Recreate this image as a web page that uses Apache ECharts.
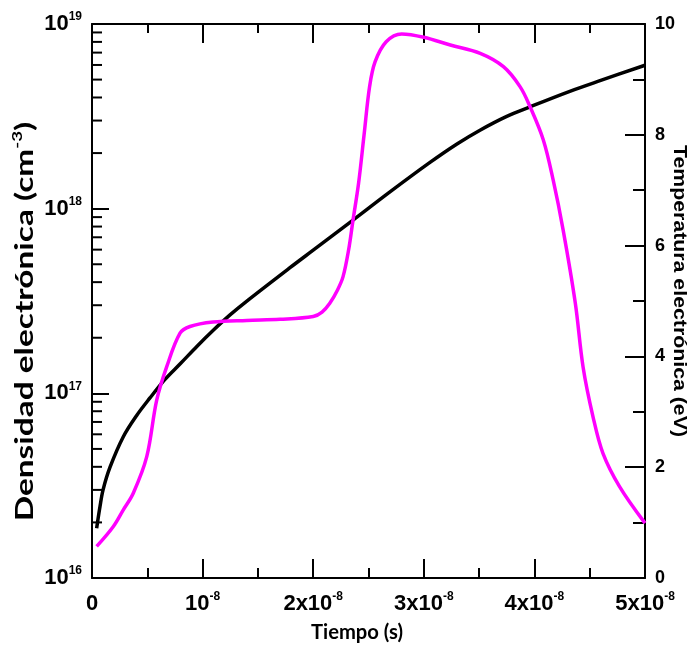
<!DOCTYPE html>
<html><head><meta charset="utf-8">
<script src="https://cdn.jsdelivr.net/npm/echarts@6/dist/echarts.min.js"></script>
<style>html,body{margin:0;padding:0;background:#fff}#c{width:690px;height:646px}</style>
</head><body><div id="c"></div>
<script>
// ---- data (time in seconds) ----
const densityTime = [0.042e-8,0.072e-8,0.10e-8,0.163e-8,0.283e-8,0.404e-8,0.524e-8,0.66e-8,0.80e-8,0.95e-8,1.094e-8,1.248e-8,1.40e-8,1.79e-8,2.0e-8,2.36e-8,2.7e-8,3.056e-8,3.3e-8,3.508e-8,3.75e-8,3.96e-8,4.32e-8,4.6e-8,5.0e-8];
const density = [1.86e16,2.43e16,3.0e16,3.98e16,5.82e16,7.59e16,9.44e16,1.19e17,1.45e17,1.8e17,2.19e17,2.66e17,3.16e17,4.79e17,5.96e17,8.67e17,1.24e18,1.78e18,2.24e18,2.66e18,3.16e18,3.56e18,4.32e18,4.95e18,5.98e18];
const tempTime = [0.042e-8,0.193e-8,0.283e-8,0.373e-8,0.495e-8,0.585e-8,0.675e-8,0.796e-8,0.886e-8,1.094e-8,1.4e-8,1.7e-8,2.0e-8,2.08e-8,2.15e-8,2.22e-8,2.27e-8,2.32e-8,2.36e-8,2.41e-8,2.46e-8,2.51e-8,2.56e-8,2.66e-8,2.8e-8,3.0e-8,3.24e-8,3.51e-8,3.72e-8,3.87e-8,3.96e-8,4.08e-8,4.17e-8,4.26e-8,4.37e-8,4.44e-8,4.53e-8,4.62e-8,4.77e-8,5.0e-8];
const temperature = [0.57,0.93,1.23,1.53,2.19,3.21,3.81,4.42,4.54,4.62,4.65,4.67,4.72,4.8,4.96,5.2,5.44,5.92,6.46,7.12,8.0,8.87,9.32,9.68,9.82,9.76,9.62,9.47,9.23,8.87,8.51,7.91,7.18,6.28,4.96,3.81,2.91,2.25,1.65,0.99];
// ---- tick labels ----
const xTickBase = ['0','10','2x10','3x10','4x10','5x10'];
const xTickExp = ['','-8','-8','-8','-8','-8'];
const leftTickBase = ['10','10','10','10'];
const leftTickExp = ['16','17','18','19'];
const rightTickLabels = ['0','2','4','6','8','10'];
const logMinorTicks = [];
[1e16,1e17,1e18].forEach(d=>{for(let k=2;k<=9;k++) logMinorTicks.push(k*d);});

function textW(str, font){const c=document.createElement('canvas').getContext('2d');c.font=font;return c.measureText(str).width;}
const leftW = textW('Densidad electrónica (cm)','bold 25px Lato') + textW('-3','bold 14px Lato');
const leftScale = 399/leftW;
const botScale = 92/textW('Tiempo (s)','bold 21px Lato');
const rightScale = 292/textW('Temperatura electrónica (eV)','bold 18px "Liberation Sans"');

const AF = '"Liberation Sans", Arial, sans-serif';
const richLab = {
  b:{fontFamily:AF,fontWeight:'bold',fontSize:22,lineHeight:26,color:'#000'},
  s:{fontFamily:AF,fontWeight:'bold',fontSize:12,lineHeight:12,verticalAlign:'top',color:'#000'}
};
const lineStyleAx = {color:'#000',width:2};

const chart = echarts.init(document.getElementById('c'));
chart.setOption({
  animation:false,
  backgroundColor:'#fff',
  grid:{left:92,right:45,top:24,bottom:68,containLabel:false,outerBoundsMode:'none'},
  xAxis:[{
    type:'value',min:0,max:5e-8,interval:1e-8,position:'bottom',
    axisLine:{show:true,onZero:false,lineStyle:lineStyleAx},
    axisTick:{show:true,inside:true,length:19,lineStyle:lineStyleAx},
    minorTick:{show:true,splitNumber:2,length:10,lineStyle:lineStyleAx},
    splitLine:{show:false},minorSplitLine:{show:false},
    axisLabel:{margin:13,rich:richLab,formatter:(v,i)=>{const k=Math.round(v/1e-8);return xTickExp[k]?('{b|'+xTickBase[k]+'}{s|'+xTickExp[k]+'}'):('{b|'+xTickBase[k]+'}');}}
  },{
    type:'value',min:0,max:5e-8,interval:1e-8,position:'top',
    axisLine:{show:true,onZero:false,lineStyle:lineStyleAx},
    axisTick:{show:true,inside:true,length:19,lineStyle:lineStyleAx},
    minorTick:{show:true,splitNumber:2,length:9,lineStyle:lineStyleAx},
    splitLine:{show:false},axisLabel:{show:false}
  }],
  yAxis:[{
    type:'log',logBase:10,min:1e16,max:1e19,position:'left',
    axisLine:{show:true,onZero:false,lineStyle:lineStyleAx},
    axisTick:{show:true,inside:true,length:17,lineStyle:lineStyleAx},
    splitLine:{show:false},
    axisLabel:{margin:10,rich:richLab,formatter:(v)=>{const e=Math.round(Math.log10(v))-16;return '{b|'+leftTickBase[e]+'}{s|'+leftTickExp[e]+'}';}}
  },{
    type:'value',min:0,max:10,interval:2,position:'right',
    axisLine:{show:true,onZero:false,lineStyle:lineStyleAx},
    axisTick:{show:true,inside:true,length:20,lineStyle:lineStyleAx},
    minorTick:{show:true,splitNumber:2,length:12,lineStyle:lineStyleAx},
    splitLine:{show:false},
    axisLabel:{margin:10,fontFamily:AF,fontWeight:'bold',fontSize:18,color:'#000',formatter:(v)=>rightTickLabels[Math.round(v/2)]}
  }],
  series:[{
    type:'custom',xAxisIndex:0,yAxisIndex:0,silent:true,clip:false,
    data:logMinorTicks.map(v=>[0,v]),
    renderItem:(params,api)=>{const p=api.coord([0,api.value(1)]);return {type:'line',shape:{x1:p[0],y1:p[1],x2:p[0]+10,y2:p[1]},style:{stroke:'#000',lineWidth:2}};}
  },{
    type:'line',name:'Densidad',xAxisIndex:0,yAxisIndex:0,showSymbol:false,smooth:0.35,
    data:densityTime.map((t,i)=>[t,density[i]]),
    lineStyle:{color:'#000',width:3.5},itemStyle:{color:'#000'}
  },{
    type:'line',name:'Temperatura',xAxisIndex:0,yAxisIndex:1,showSymbol:false,smooth:0.35,
    data:tempTime.map((t,i)=>[t,temperature[i]]),
    lineStyle:{color:'#ff00ff',width:3.5},itemStyle:{color:'#ff00ff'}
  }],
  graphic:[
    {type:'text',x:25,y:321.5,rotation:Math.PI/2,scaleX:leftScale,
     style:{text:'{a|Densidad electrónica (cm}{s|-3}{a|)}',textAlign:'center',textVerticalAlign:'middle',fill:'#000',
      rich:{a:{fontFamily:'Lato',fontWeight:'bold',fontSize:25,lineHeight:30,fill:'#000'},s:{fontFamily:'Lato',fontWeight:'bold',fontSize:14,lineHeight:16,verticalAlign:'top',fill:'#000'}}}},
    {type:'text',x:357,y:632,scaleX:botScale,
     style:{text:'Tiempo (s)',fontFamily:'Lato',fontWeight:'bold',fontSize:21,textAlign:'center',textVerticalAlign:'middle',fill:'#000'}},
    {type:'text',x:679,y:291,rotation:-Math.PI/2,scaleX:rightScale,
     style:{text:'Temperatura electrónica (eV)',fontFamily:AF,fontWeight:'bold',fontSize:18,textAlign:'center',textVerticalAlign:'middle',fill:'#000'}}
  ]
});
</script></body></html>
